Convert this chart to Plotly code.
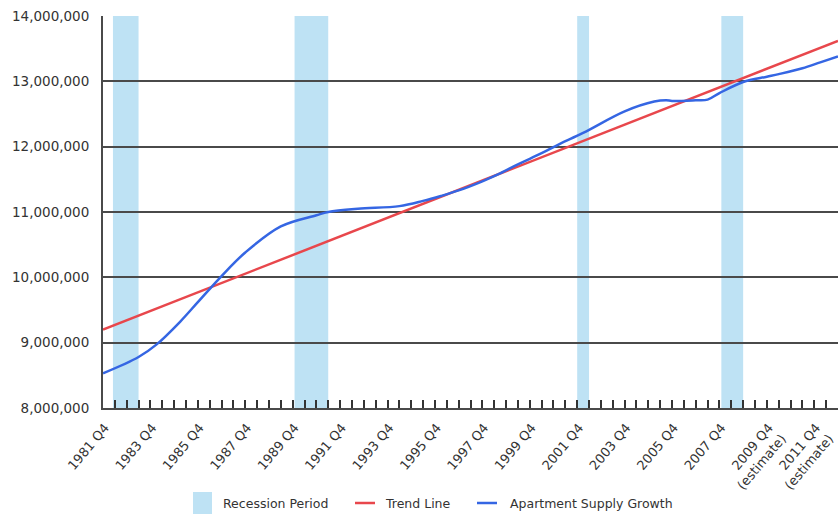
import plotly.graph_objects as go

# Apartment supply (units), quarterly positions expressed as decimal years
supply_x = [1981.25, 1982.75, 1983.5, 1984.5, 1985.25, 1986.25, 1987.25, 1988.75,
            1990.25, 1990.75, 1992.0, 1993.75, 1994.75, 1995.5, 1996.25, 1997.25,
            1998.0, 1998.75, 1999.75, 2000.5, 2001.5, 2003.25, 2004.5, 2005.0,
            2005.25, 2006.25, 2006.75, 2007.25, 2008.25, 2009.25, 2009.75, 2010.75,
            2011.5, 2012.25]
supply_y = [8.53e6, 8.78e6, 8.97e6, 9.32e6, 9.62e6, 10.02e6, 10.38e6, 10.78e6,
            10.95e6, 11.00e6, 11.05e6, 11.09e6, 11.17e6, 11.245e6, 11.33e6, 11.47e6,
            11.59e6, 11.73e6, 11.90e6, 12.04e6, 12.21e6, 12.54e6, 12.69e6, 12.71e6,
            12.70e6, 12.71e6, 12.72e6, 12.82e6, 12.99e6, 13.07e6, 13.11e6, 13.20e6,
            13.29e6, 13.38e6]

# Linear trend endpoints
trend_x = [1981.25, 2012.25]
trend_y = [9.20e6, 13.62e6]

# Recession periods (start, end) in decimal years
recession_start = [1981.67, 1989.33, 2001.25, 2007.33]
recession_end = [1982.75, 1990.75, 2001.75, 2008.25]

# Axis ticks: one every half year, labelled every two years
label_years = list(range(1981, 2012, 2))
label_text = [f"{y} Q4" if y < 2009 else f"{y} Q4<br>(estimate)" for y in label_years]

tick_vals = []
tick_text = []
v = 1981.75
while v < 2012.2:
    tick_vals.append(v)
    yr = int(v)
    if abs(v - (yr + 0.75)) < 1e-6 and yr in label_years:
        tick_text.append(label_text[label_years.index(yr)])
    else:
        tick_text.append("")
    v += 0.5

y_ticks = [8e6, 9e6, 10e6, 11e6, 12e6, 13e6, 14e6]
y_text = [f"{t:,.0f}" for t in y_ticks]

legend_names = ["Recession Period", "Trend Line", "Apartment Supply Growth"]

REC_COLOR = "#BEE2F4"
TREND_COLOR = "#E8474C"
SUPPLY_COLOR = "#3566E3"
AXIS_COLOR = "#4a4a4a"
TEXT_COLOR = "#333333"
FONT = "DejaVu Sans"

W, H = 838, 514
ML, MR, MT, MB = 103, 0, 16, 106
PW, PH = W - ML - MR, H - MT - MB


def px_x(p):
    """Pixel column -> paper x."""
    return (p - ML) / PW


def px_y(p):
    """Pixel row -> paper y."""
    return (H - MB - p) / PH


fig = go.Figure()

fig.add_trace(go.Scatter(
    x=trend_x, y=trend_y, mode="lines", name=legend_names[1],
    line=dict(color=TREND_COLOR, width=2.5), showlegend=False,
))
fig.add_trace(go.Scatter(
    x=supply_x, y=supply_y, mode="lines", name=legend_names[2],
    line=dict(color=SUPPLY_COLOR, width=2.5, shape="spline", smoothing=1.0),
    showlegend=False,
))

for s, e in zip(recession_start, recession_end):
    fig.add_shape(type="rect", xref="x", yref="y", x0=s, x1=e, y0=8e6, y1=14e6,
                  fillcolor=REC_COLOR, line=dict(width=0), layer="below")

# Legend row below the axis labels
legend_y = px_y(503)
fig.add_shape(type="rect", xref="paper", yref="paper",
              x0=px_x(193), x1=px_x(212), y0=px_y(514), y1=px_y(492),
              fillcolor=REC_COLOR, line=dict(width=0))
fig.add_shape(type="line", xref="paper", yref="paper",
              x0=px_x(355), x1=px_x(375), y0=legend_y, y1=legend_y,
              line=dict(color=TREND_COLOR, width=2.5))
fig.add_shape(type="line", xref="paper", yref="paper",
              x0=px_x(477), x1=px_x(497), y0=legend_y, y1=legend_y,
              line=dict(color=SUPPLY_COLOR, width=2.5))
for name, start in zip(legend_names, [221, 383, 508]):
    fig.add_annotation(text=name, xref="paper", yref="paper", x=px_x(start), y=legend_y,
                       xanchor="left", yanchor="middle", showarrow=False,
                       font=dict(size=12.5, color=TEXT_COLOR))

fig.update_layout(
    width=W, height=H,
    margin=dict(l=ML, r=MR, t=MT, b=MB, autoexpand=False),
    paper_bgcolor="white", plot_bgcolor="white",
    font=dict(family=FONT, size=13, color=TEXT_COLOR),
    showlegend=False,
    xaxis=dict(
        range=[1981.25, 2012.25], showgrid=False, zeroline=False,
        showline=True, linecolor=AXIS_COLOR, linewidth=2,
        tickmode="array", tickvals=tick_vals, ticktext=tick_text,
        ticks="inside", ticklen=8, tickwidth=1.5, tickcolor="#333333",
        tickangle=-50, tickfont=dict(size=13, color=TEXT_COLOR),
        ticklabeloverflow="allow", automargin=False,
        ticklabelstandoff=5, ticklabelshift=-10,
    ),
    yaxis=dict(
        range=[8e6, 14e6], zeroline=False,
        showgrid=True, gridcolor=AXIS_COLOR, gridwidth=1.6,
        showline=True, linecolor=AXIS_COLOR, linewidth=2,
        tickmode="array", tickvals=y_ticks, ticktext=y_text,
        ticks="", ticklabelstandoff=9, automargin=False,
        tickfont=dict(size=13.5, color=TEXT_COLOR),
    ),
)

fig.write_html("out.html")
